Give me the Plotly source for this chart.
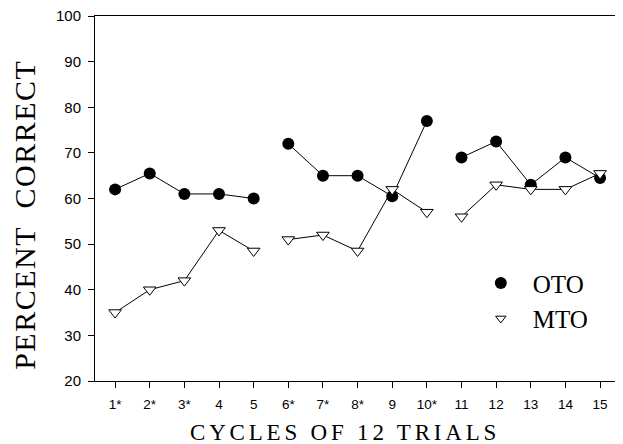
import plotly.graph_objects as go

cycles = list(range(1, 16))
tick_labels = ["1*", "2*", "3*", "4", "5", "6*", "7*", "8*", "9", "10*", "11", "12", "13", "14", "15"]
oto = [62, 65.5, 61, 61, 60, 72, 65, 65, 60.5, 77, 69, 72.5, 63, 69, 64.5]
mto = [35, 40, 42, 53, 48.5, 51, 52, 48.5, 62, 57, 56, 63, 62, 62, 65.5]
blocks = [(0, 5), (5, 10), (10, 15)]
x_title = "CYCLES OF 12 TRIALS"
y_title = "PERCENT  CORRECT"


def gapped(vals):
    xs, ys = [], []
    for a, b in blocks:
        xs += cycles[a:b] + [None]
        ys += vals[a:b] + [None]
    return xs, ys


oto_marker = dict(symbol="circle", size=12, color="black")
mto_marker = dict(symbol="triangle-down", size=11, color="white",
                  line=dict(color="black", width=1))

fig = go.Figure()
xo, yo = gapped(oto)
xm, ym = gapped(mto)
fig.add_trace(go.Scatter(x=xo, y=yo, mode="lines+markers", showlegend=False,
                         line=dict(color="black", width=1), marker=oto_marker))
fig.add_trace(go.Scatter(x=xm, y=ym, mode="lines+markers", showlegend=False,
                         line=dict(color="black", width=1), marker=mto_marker))
# legend entries (markers only)
fig.add_trace(go.Scatter(x=[None], y=[None], mode="markers", name="OTO", marker=oto_marker))
fig.add_trace(go.Scatter(x=[None], y=[None], mode="markers", name="MTO",
                         marker=dict(mto_marker, size=9)))

serif = "Liberation Serif, serif"
# the page body has an 8px default margin, so the figure is 8px smaller
fig.update_layout(
    width=615, height=436,
    margin=dict(l=87, r=7, t=8, b=63, autoexpand=False),
    paper_bgcolor="white", plot_bgcolor="white",
    font=dict(family="Liberation Sans, Arial", color="black"),
    legend=dict(x=0.7175, y=0.331, xanchor="left", yanchor="top",
                font=dict(family=serif, size=25),
                bgcolor="rgba(0,0,0,0)", itemwidth=54, tracegroupgap=0),
    xaxis=dict(
        range=[0.42, 15.46], tickmode="array", tickvals=cycles, ticktext=tick_labels,
        showgrid=False, zeroline=False, showline=True, linecolor="black", linewidth=1,
        mirror=True, ticks="outside", ticklen=6, tickcolor="black",
        tickfont=dict(size=13.5), ticklabelstandoff=5, automargin=False,
        ticklabeloverflow="allow",
    ),
    yaxis=dict(
        range=[20, 100], tickvals=[20, 30, 40, 50, 60, 70, 80, 90, 100],
        showgrid=False, zeroline=False, showline=True, linecolor="black", linewidth=1,
        mirror=True, ticks="outside", ticklen=6, tickcolor="black",
        tickfont=dict(size=15), ticklabelstandoff=4, automargin=False,
        ticklabeloverflow="allow",
    ),
    annotations=[
        dict(text="<span style='letter-spacing:3.8px'>" + x_title + "</span>",
             xref="paper", yref="paper", x=0.48, y=-0.142,
             xanchor="center", yanchor="middle", showarrow=False,
             font=dict(family=serif, size=23)),
        dict(text="<span style='letter-spacing:1.5px'>" + y_title + "</span>",
             xref="paper", yref="paper", x=-0.1345, y=0.455, textangle=-90,
             xanchor="center", yanchor="middle", showarrow=False,
             font=dict(family=serif, size=30)),
    ],
)

fig.write_html("out.html")
